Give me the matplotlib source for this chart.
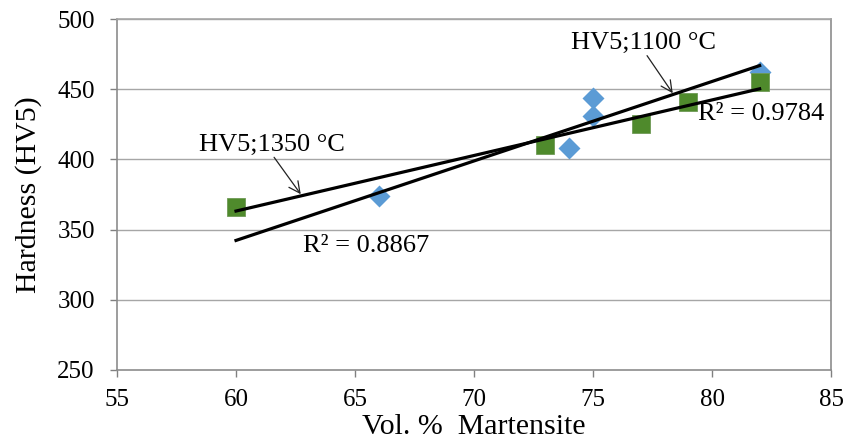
import matplotlib.pyplot as plt
import numpy as np

# data
mart_1100 = [66, 74, 75, 75, 82]
hv_1100 = [374, 408, 431, 444, 462]
mart_1350 = [60, 73, 77, 79, 82]
hv_1350 = [366, 410, 425, 441, 455]
xticks = [55, 60, 65, 70, 75, 80, 85]
yticks = [250, 300, 350, 400, 450, 500]

plt.rcParams["font.family"] = ["Liberation Serif", "DejaVu Serif"]

fig = plt.figure(figsize=(8.43, 4.44), dpi=100)
ax = fig.add_axes([0.1388, 0.1667, 0.847, 0.7905])

grid_c = "#a6a6a6"
for y in yticks[1:]:
    ax.axhline(y, color=grid_c, lw=1.0, zorder=0)

# linear trendlines, extended back to 60 like Excel
xs = np.array([60, 82])
k1, b1 = np.polyfit(mart_1100, hv_1100, 1)
k2, b2 = np.polyfit(mart_1350, hv_1350, 1)

ax.plot(mart_1100, hv_1100, "D", color="#5b9bd5", ms=11.5, mec="none", zorder=2)
ax.plot(mart_1350, hv_1350, "s", color="#4f8a2c", ms=12.5, mec="#6f9a55", mew=0.6, zorder=3)
ax.plot(xs, k1 * xs + b1, color="black", lw=2.3, zorder=4)
ax.plot(xs, k2 * xs + b2, color="black", lw=2.3, zorder=4)

arr = dict(arrowstyle="->", color="#222222", lw=0.9, shrinkA=0, shrinkB=0, mutation_scale=20)
ax.annotate("", xy=(78.35, 447.1), xytext=(77.27, 473.9), arrowprops=arr, zorder=5)
ax.annotate("", xy=(62.72, 375.2), xytext=(61.6, 401.5), arrowprops=arr, zorder=5)
ax.text(77.14, 482.9, "HV5;1100 °C", fontsize=19, ha="center", va="center")
ax.text(61.51, 410.3, "HV5;1350 °C", fontsize=19, ha="center", va="center")
ax.text(79.41, 432.6, "R² = 0.9784", fontsize=19, ha="left", va="center")
ax.text(62.82, 338, "R² = 0.8867", fontsize=19, ha="left", va="center")

ax.set_xlim(55, 85)
ax.set_ylim(250, 500)
ax.set_xticks(xticks)
ax.set_yticks(yticks)
ax.tick_params(labelsize=18, color="#808080", length=5, width=1)
ax.tick_params(axis="x", pad=9)
ax.tick_params(axis="y", pad=11)
for s in ax.spines.values():
    s.set_color("#8c8c8c")
    s.set_linewidth(1.2)
ax.spines["top"].set_color(grid_c)

ax.set_xlabel("Vol. %  Martensite", fontsize=21.5, labelpad=2)
ax.set_ylabel("Hardness (HV5)", fontsize=21.5, labelpad=11)

fig.savefig("out.png", dpi=100)
